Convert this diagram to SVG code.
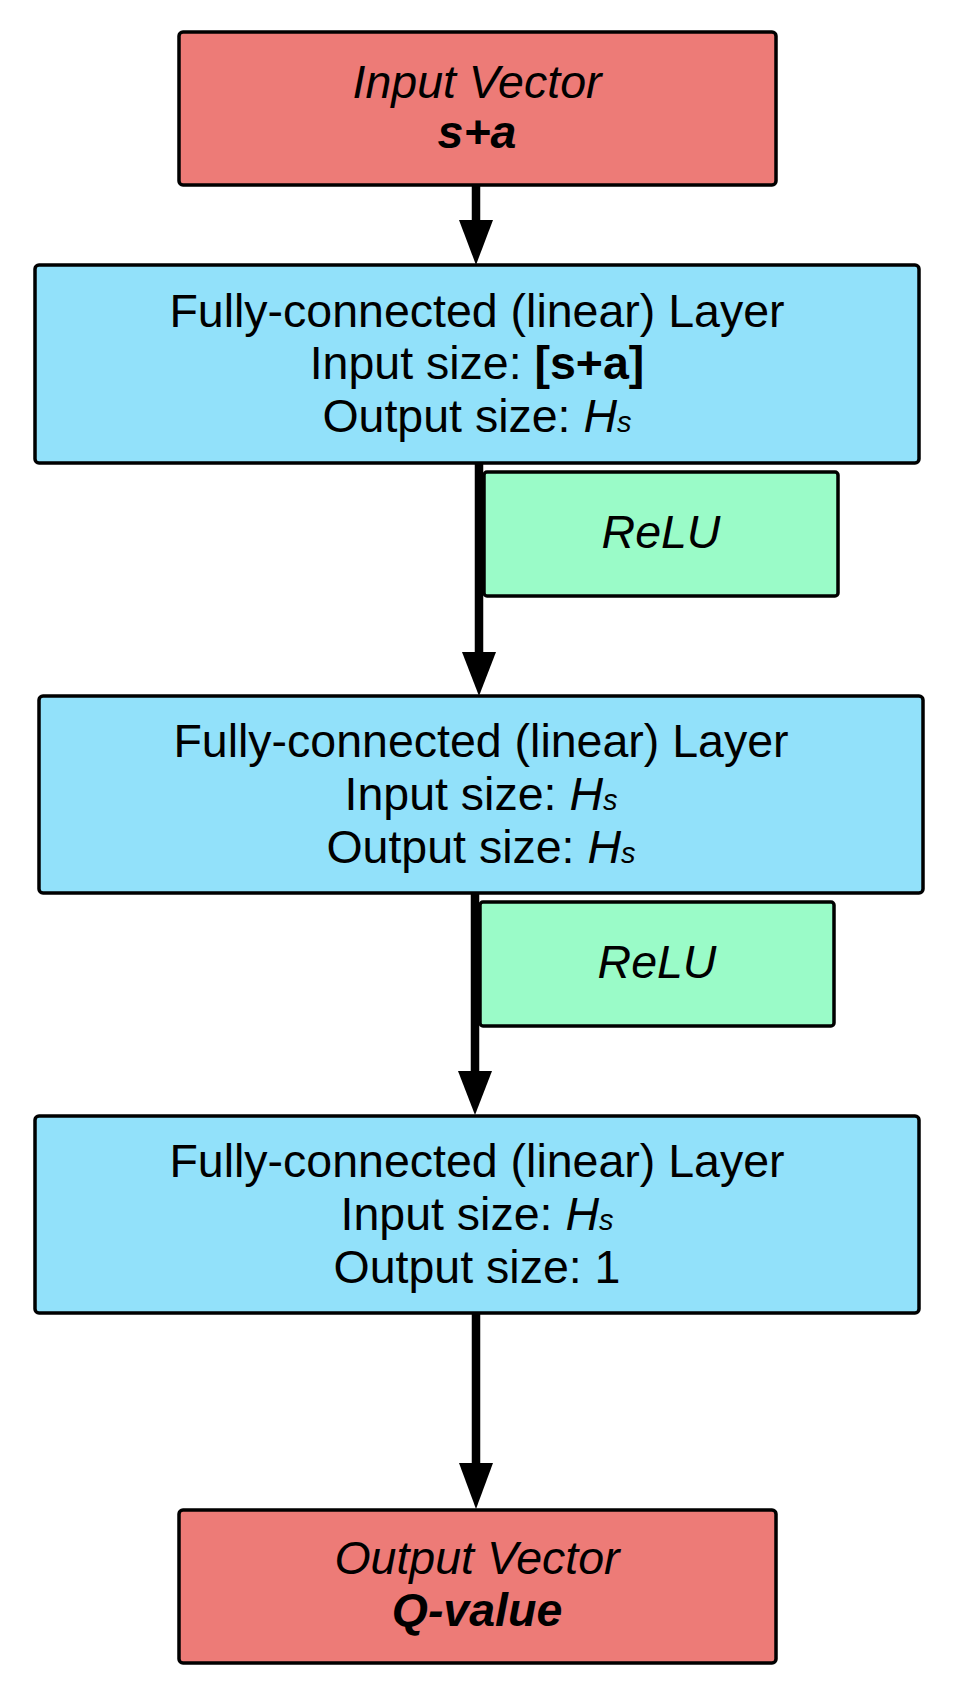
<svg xmlns="http://www.w3.org/2000/svg" width="960" height="1705" viewBox="0 0 960 1705">
<defs>
<style>
.box{stroke:#000;stroke-width:3.5}
.io{fill:#ED7B77}
.fc{fill:#92E1FA}
.act{fill:#9AFBC8}
text{font-family:"Liberation Sans",Arial,sans-serif;font-size:46.5px;fill:#000;text-anchor:middle}
.it{font-style:italic}
.b{font-weight:bold}
.sub{font-style:italic;font-size:29px}
.conn{stroke:#000;stroke-width:8.5;fill:none}
</style>
</defs>
<rect width="960" height="1705" fill="#fff"/>
<g id="connectors">
<line class="conn" x1="476" y1="185" x2="476" y2="222"/>
<path d="M459,220 L493,220 L476,265 Z" fill="#000"/>
<line class="conn" x1="479" y1="463" x2="479" y2="654"/>
<path d="M462,652 L496,652 L479,696 Z" fill="#000"/>
<line class="conn" x1="475" y1="893" x2="475" y2="1073"/>
<path d="M458,1071 L492,1071 L475,1115 Z" fill="#000"/>
<line class="conn" x1="476" y1="1313" x2="476" y2="1465"/>
<path d="M459,1463 L493,1463 L476,1509 Z" fill="#000"/>
</g>
<g id="input">
<rect class="box io" x="179" y="32" width="597" height="153" rx="4"/>
<text x="477" y="98" class="it">Input Vector</text>
<text x="477" y="148" class="it b">s+a</text>
</g>
<g id="fc1">
<rect class="box fc" x="35" y="265" width="884" height="198" rx="4"/>
<text x="477" y="327">Fully-connected (linear) Layer</text>
<text x="477" y="379">Input size: <tspan class="b">[s+a]</tspan></text>
<text x="477" y="432">Output size: <tspan class="it">H</tspan><tspan class="sub">s</tspan></text>
</g>
<g id="relu1">
<rect class="box act" x="484" y="472" width="354" height="124" rx="3"/>
<text x="661" y="548" class="it">ReLU</text>
</g>
<g id="fc2">
<rect class="box fc" x="39" y="696" width="884" height="197" rx="4"/>
<text x="481" y="757">Fully-connected (linear) Layer</text>
<text x="481" y="810">Input size: <tspan class="it">H</tspan><tspan class="sub">s</tspan></text>
<text x="481" y="863">Output size: <tspan class="it">H</tspan><tspan class="sub">s</tspan></text>
</g>
<g id="relu2">
<rect class="box act" x="480" y="902" width="354" height="124" rx="3"/>
<text x="657" y="978" class="it">ReLU</text>
</g>
<g id="fc3">
<rect class="box fc" x="35" y="1116" width="884" height="197" rx="4"/>
<text x="477" y="1177">Fully-connected (linear) Layer</text>
<text x="477" y="1230">Input size: <tspan class="it">H</tspan><tspan class="sub">s</tspan></text>
<text x="477" y="1283">Output size: 1</text>
</g>
<g id="output">
<rect class="box io" x="179" y="1510" width="597" height="153" rx="4"/>
<text x="477" y="1574" class="it">Output Vector</text>
<text x="477" y="1626" class="it b">Q-value</text>
</g>
</svg>
